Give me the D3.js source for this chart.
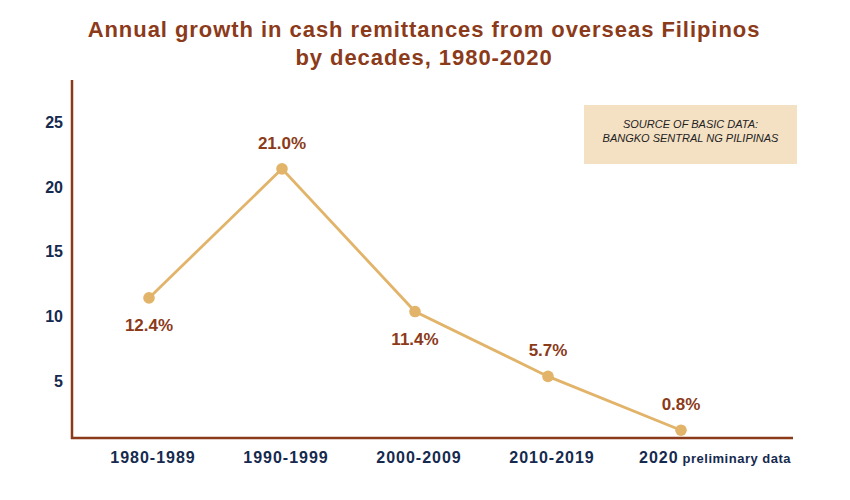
<!DOCTYPE html>
<html>
<head>
<meta charset="utf-8">
<script src="https://cdn.jsdelivr.net/npm/d3@7"></script>
<style>
  html, body { margin: 0; padding: 0; background: #ffffff; }
  svg { display: block; }
</style>
</head>
<body>
<div id="chart"></div>
<script>
// ---- data ----
const categories = ["1980-1989", "1990-1999", "2000-2009", "2010-2019", "2020"];
const values = [11.4, 21.35, 10.35, 5.35, 1.2];          // plotted positions as read
const valueLabels = ["12.4%", "21.0%", "11.4%", "5.7%", "0.8%"];
const labelAbove = [false, true, false, true, true];
const yTicks = [5, 10, 15, 20, 25];
const titleLines = ["Annual growth in cash remittances from overseas Filipinos", "by decades, 1980-2020"];
const sourceLines = ["SOURCE OF BASIC DATA:", "BANGKO SENTRAL NG PILIPINAS"];
const lastSuffix = "preliminary data";

// ---- layout ----
const W = 850, H = 500;
const brown = "#8b3a1a", navy = "#152a4e", gold = "#e2b46a";
const svg = d3.select("#chart").append("svg").attr("width", W).attr("height", H);

const axisX = 72, axisBottom = 438, axisTop = 80, axisRight = 793;
const x = d3.scalePoint().domain(categories).range([149, 681]);
const y = d3.scaleLinear().domain([0.6, 28.2]).range([axisBottom, axisTop]);

// title
svg.append("g").selectAll("text").data(titleLines).join("text")
  .attr("x", 424).attr("y", (d, i) => 37 + i * 28)
  .attr("text-anchor", "middle")
  .style("font-family", "'Liberation Sans', Arial, sans-serif")
  .style("font-weight", "bold").style("font-size", "22px")
  .style("letter-spacing", "0.95px")
  .attr("fill", brown).text(d => d);

// source box
svg.append("rect").attr("x", 584).attr("y", 105).attr("width", 213).attr("height", 59)
  .attr("fill", "#f4e0c2");
svg.append("g").selectAll("text").data(sourceLines).join("text")
  .attr("x", 690.5).attr("y", (d, i) => 128 + i * 13.5)
  .attr("text-anchor", "middle")
  .style("font-family", "'Liberation Sans', Arial, sans-serif")
  .style("font-style", "italic").style("font-size", "11px")
  .attr("fill", "#222").text(d => d);

// y axis
const yAxis = svg.append("g").attr("transform", `translate(${axisX},0)`)
  .call(d3.axisLeft(y).tickValues(yTicks).tickSize(0).tickPadding(9).tickFormat(d3.format("d")));
yAxis.select(".domain").remove();
yAxis.selectAll("text")
  .style("font-family", "'Liberation Sans', Arial, sans-serif")
  .style("font-weight", "bold").style("font-size", "16px")
  .attr("fill", navy).attr("dy", "0.36em");

// axis lines
svg.append("line").attr("x1", axisX).attr("x2", axisX).attr("y1", axisTop).attr("y2", axisBottom + 1)
  .attr("stroke", brown).attr("stroke-width", 2.5);
svg.append("line").attr("x1", axisX - 1).attr("x2", axisRight).attr("y1", axisBottom).attr("y2", axisBottom)
  .attr("stroke", brown).attr("stroke-width", 2.5);

// x labels
const xl = svg.append("g").selectAll("text").data(categories).join("text")
  .attr("x", (d, i) => i === categories.length - 1 ? x(d) - 42 : x(d) + 4)
  .attr("y", 463)
  .attr("text-anchor", (d, i) => i === categories.length - 1 ? "start" : "middle")
  .style("font-family", "'Liberation Sans', Arial, sans-serif")
  .style("font-weight", "bold").style("font-size", "16px")
  .style("letter-spacing", "1px")
  .attr("fill", navy);
xl.append("tspan").text(d => d);
xl.filter((d, i) => i === categories.length - 1).append("tspan")
  .attr("dx", 4).style("font-size", "13px").style("letter-spacing", "0.5px").text(lastSuffix);

// line
const pts = categories.map((c, i) => ({ c, v: values[i], lab: valueLabels[i], above: labelAbove[i] }));
svg.append("path").datum(pts)
  .attr("d", d3.line().x(d => x(d.c)).y(d => y(d.v)))
  .attr("fill", "none").attr("stroke", gold).attr("stroke-width", 2.8);
svg.append("g").selectAll("circle").data(pts).join("circle")
  .attr("cx", d => x(d.c)).attr("cy", d => y(d.v)).attr("r", 5.8).attr("fill", gold);

// value labels
svg.append("g").selectAll("text").data(pts).join("text")
  .attr("x", d => x(d.c))
  .attr("y", d => y(d.v) + (d.above ? -20 : 33))
  .attr("text-anchor", "middle")
  .style("font-family", "'Liberation Sans', Arial, sans-serif")
  .style("font-weight", "bold").style("font-size", "17px")
  .attr("fill", brown).text(d => d.lab);
</script>
</body>
</html>
